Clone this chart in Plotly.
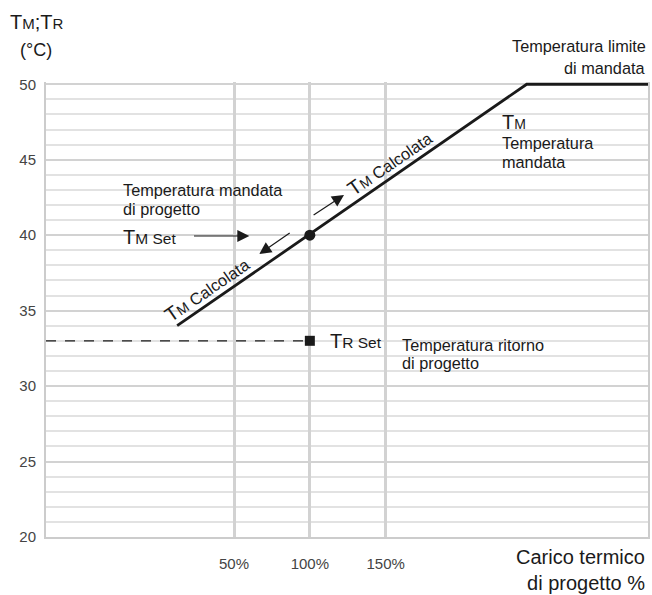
import plotly.graph_objects as go

# ---- data ----
load_pct = [12.5, 243, 323]          # % design load along the supply curve
t_supply = [34, 50, 50]              # supply temperature (°C)
design_load = [100]
design_supply = [40]
design_return = [33]
return_line_x = [-74, 100]
return_line_y = [33, 33]
x_tickvals = [50, 100, 150]
x_ticktext = ["50%", "100%", "150%"]
y_tickvals = [20, 25, 30, 35, 40, 45, 50]

FONT = "Liberation Sans, Arial, sans-serif"
BLACK = "#1a1a1a"

X_RANGE = [-74, 323]
Y_RANGE = [20, 50.15]
L, R, T, B = 46, 2, 82, 58
W, H = 652, 595


def dx(px):
    return X_RANGE[0] + (px - L) / (W - L - R) * (X_RANGE[1] - X_RANGE[0])


def dy(py):
    return Y_RANGE[0] + (H - B - py) / (H - B - T) * (Y_RANGE[1] - Y_RANGE[0])


def pxp(px):
    return (px - L) / (W - L - R)


def pyp(py):
    return (H - B - py) / (H - B - T)


def tsub(sub, small):
    return f"T<span style='font-size:{small}px'>{sub}</span>"


fig = go.Figure()

fig.add_trace(go.Scatter(x=return_line_x, y=return_line_y, mode="lines",
                         line=dict(color=BLACK, width=1.2, dash="10px,9px"),
                         hoverinfo="skip"))
fig.add_trace(go.Scatter(x=load_pct, y=t_supply, mode="lines",
                         line=dict(color=BLACK, width=2.8), hoverinfo="skip"))
fig.add_trace(go.Scatter(x=design_load, y=design_supply, mode="markers",
                         marker=dict(color=BLACK, size=11, symbol="circle"),
                         cliponaxis=False))
fig.add_trace(go.Scatter(x=design_load, y=design_return, mode="markers",
                         marker=dict(color=BLACK, size=10, symbol="square"),
                         cliponaxis=False))

ann = []


def txt(text, px, py, size, xanchor="left", angle=0, yanchor="middle", align="left"):
    ann.append(dict(text=text, x=pxp(px), y=pyp(py), xref="paper", yref="paper",
                    showarrow=False, xanchor=xanchor, yanchor=yanchor, align=align,
                    textangle=angle, font=dict(family=FONT, size=size, color=BLACK)))


def arrow(px0, py0, px1, py1):
    ann.append(dict(text="", x=dx(px1), y=dy(py1), ax=dx(px0), ay=dy(py0),
                    xref="x", yref="y", axref="x", ayref="y", showarrow=True,
                    arrowhead=2, arrowsize=2.0, arrowwidth=1.2, arrowcolor=BLACK,
                    standoff=0, startstandoff=0))


calc = tsub("M", 14) + "<span style='font-size:16.5px'> Calcolata</span>"

# axis titles
txt(tsub("M", 15) + ";" + tsub("R", 15), 37, 22, 20, xanchor="center")
txt("(°C)", 36, 50, 18, xanchor="center")
txt("Carico termico<br>di progetto %", 649, 596, 20, xanchor="right",
    yanchor="bottom", align="right")

# top right
txt("Temperatura limite", 650, 46, 16.3, xanchor="right")
txt("di mandata", 650, 68, 16.3, xanchor="right")

# TM label
txt(tsub("M", 14), 502, 122, 20)
txt("Temperatura", 502, 143, 16.3)
txt("mandata", 502, 162, 16.3)

# design supply
txt("Temperatura mandata", 121, 190, 16.3)
txt("di progetto", 121, 209, 16.3)
txt(tsub("M Set", 15.5), 121, 237, 20)
arrow(193, 236, 250, 236)

# TM calcolata labels and arrows
txt(calc, 208, 289, 20, xanchor="center", angle=-34.6)
txt(calc, 391, 163, 20, xanchor="center", angle=-34.6)
arrow(292, 232, 260, 254)
arrow(313, 216, 345, 195)

# design return
txt(tsub("R Set", 15.5), 329, 341, 20)
txt("Temperatura ritorno", 401, 345, 16.3)
txt("di progetto", 401, 363, 16.3)

fig.update_layout(
    width=W, height=H, autosize=False,
    margin=dict(l=L, r=R, t=T, b=B),
    plot_bgcolor="white", paper_bgcolor="white",
    showlegend=False,
    annotations=ann,
    font=dict(family=FONT, color=BLACK),
)

fig.update_xaxes(range=X_RANGE, tickvals=x_tickvals, ticktext=x_ticktext,
                 showgrid=True, gridcolor="#d2d2d2", gridwidth=2.5,
                 zeroline=False, showline=True, linecolor="#cccccc", linewidth=2,
                 ticks="", ticklabelstandoff=12,
                 tickfont=dict(family=FONT, size=15, color="#444444"))
fig.update_yaxes(range=Y_RANGE, tickvals=y_tickvals,
                 showgrid=True, gridcolor="#d2d2d2", gridwidth=2,
                 minor=dict(dtick=1, tick0=20, showgrid=True, gridcolor="#e2e2e2", gridwidth=1.5),
                 zeroline=False, showline=True, mirror=True, linecolor="#cccccc", linewidth=2,
                 ticks="", ticklabelstandoff=5,
                 tickfont=dict(family=FONT, size=15, color="#444444"))

post = ("document.body.style.margin='0';document.body.style.overflow='hidden';"
        "Plotly.relayout('{plot_id}', {width: %d, height: %d});" % (W, H))
fig.write_html("out.html", config={"responsive": False, "displayModeBar": False},
               post_script=post)
